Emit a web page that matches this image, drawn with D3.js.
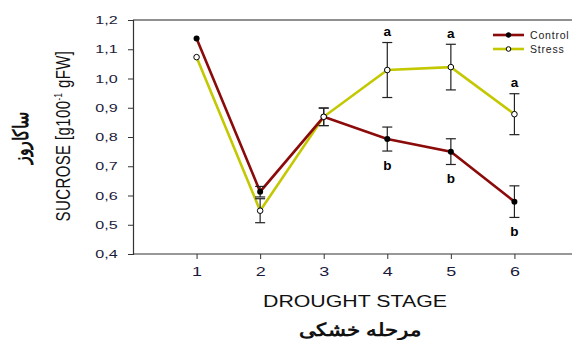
<!DOCTYPE html>
<html>
<head>
<meta charset="utf-8">
<script src="https://cdn.jsdelivr.net/npm/d3@7"></script>
<style>
  body { margin: 0; background: #fff; }
  text { font-family: "Liberation Sans", Arial, sans-serif; }
</style>
</head>
<body>
<div id="chart"></div>
<script>
// data
const stages = [1, 2, 3, 4, 5, 6];
const control = [1.137, 0.613, 0.869, 0.793, 0.750, 0.579];
const controlErr = [0, 0.018, 0.030, 0.041, 0.044, 0.054];
const stress = [1.073, 0.548, 0.869, 1.029, 1.039, 0.878];
const stressErr = [0, 0.041, 0.030, 0.094, 0.078, 0.070];
const stressLetters = ["", "", "", "a", "a", "a"];
const controlLetters = ["", "", "", "b", "b", "b"];
const yTicks = [0.4, 0.5, 0.6, 0.7, 0.8, 0.9, 1.0, 1.1, 1.2];

const W = 572, H = 340;
const mLeft = 133, mTop = 20, mBottom = 254, mRight = 578;
const stretch = 1.33; // the source figure is widened horizontally

const svg = d3.select("#chart").append("svg")
  .attr("width", W)
  .attr("height", H);

const x = d3.scaleLinear().domain([0, 7]).range([mLeft, mRight]);
const y = d3.scaleLinear().domain([0.4, 1.2]).range([mBottom, mTop]);

const fmt = d => d3.format(".1f")(d).replace(".", ",");

// top frame line
svg.append("line")
  .attr("x1", mLeft).attr("x2", W)
  .attr("y1", mTop).attr("y2", mTop)
  .attr("stroke", "#222").attr("stroke-width", 1.2);

const yAxis = svg.append("g")
  .attr("transform", "translate(" + mLeft + ",0)")
  .call(d3.axisLeft(y).tickValues(yTicks).tickFormat(fmt).tickSize(5).tickPadding(6));

const xAxis = svg.append("g")
  .attr("transform", "translate(0," + mBottom + ")")
  .call(d3.axisBottom(x).tickValues(stages).tickFormat(d3.format("d")).tickSize(5).tickPadding(7));

[yAxis, xAxis].forEach(function (g) {
  g.select(".domain").attr("stroke", "#333").attr("stroke-width", 1.2);
  g.selectAll(".tick line").attr("stroke", "#333");
  g.selectAll(".tick text").attr("fill", "#1a1a3a");
});
yAxis.selectAll(".tick text").attr("font-size", 11.5).attr("transform", "scale(1.4,1)");
xAxis.selectAll(".tick text").attr("font-size", 13.5).attr("transform", "scale(" + stretch + ",1)");
xAxis.select(".domain").attr("d", "M" + mLeft + ",0H" + W);

const line = d3.line()
  .x((d, i) => x(stages[i]))
  .y(d => y(d));

svg.append("path")
  .datum(stress)
  .attr("fill", "none")
  .attr("stroke", "#c3c800")
  .attr("stroke-width", 2.6)
  .attr("d", line);

svg.append("path")
  .datum(control)
  .attr("fill", "none")
  .attr("stroke", "#8b0a0a")
  .attr("stroke-width", 2.6)
  .attr("d", line);

// error bars
function errBars(vals, errs) {
  const g = svg.append("g").attr("stroke", "#222").attr("stroke-width", 1.2);
  stages.forEach(function (s, i) {
    if (!errs[i]) return;
    const cx = x(s), y1 = y(vals[i] + errs[i]), y2 = y(vals[i] - errs[i]);
    g.append("line").attr("x1", cx).attr("x2", cx).attr("y1", y1).attr("y2", y2);
    g.append("line").attr("x1", cx - 5).attr("x2", cx + 5).attr("y1", y1).attr("y2", y1);
    g.append("line").attr("x1", cx - 5).attr("x2", cx + 5).attr("y1", y2).attr("y2", y2);
  });
}
errBars(stress, stressErr);
errBars(control, controlErr);

svg.append("g").selectAll("circle")
  .data(control)
  .join("circle")
  .attr("cx", (d, i) => x(stages[i]))
  .attr("cy", d => y(d))
  .attr("r", 3)
  .attr("fill", "#000");

svg.append("g").selectAll("circle")
  .data(stress)
  .join("circle")
  .attr("cx", (d, i) => x(stages[i]))
  .attr("cy", d => y(d))
  .attr("r", 2.8)
  .attr("fill", "#fff")
  .attr("stroke", "#000")
  .attr("stroke-width", 1);

// significance letters
svg.append("g").selectAll("text")
  .data(stressLetters)
  .join("text")
  .attr("x", (d, i) => x(stages[i]))
  .attr("y", (d, i) => y(stress[i] + stressErr[i]) - 6.5)
  .attr("text-anchor", "middle")
  .attr("font-size", 13.5)
  .attr("font-weight", "bold")
  .text(d => d);

svg.append("g").selectAll("text")
  .data(controlLetters)
  .join("text")
  .attr("x", (d, i) => x(stages[i]))
  .attr("y", (d, i) => y(control[i] - controlErr[i]) + 19)
  .attr("text-anchor", "middle")
  .attr("font-size", 13.5)
  .attr("font-weight", "bold")
  .text(d => d);

// legend
const legend = svg.append("g").attr("transform", "translate(493,35)");
[["Control", "#8b0a0a", "#000"], ["Stress", "#c3c800", "#fff"]].forEach(function (s, i) {
  const gy = i * 14;
  legend.append("line")
    .attr("x1", 0).attr("x2", 31).attr("y1", gy).attr("y2", gy)
    .attr("stroke", s[1]).attr("stroke-width", 2.6);
  legend.append("circle")
    .attr("cx", 15.5).attr("cy", gy).attr("r", 2.3)
    .attr("fill", s[2]).attr("stroke", "#000");
  legend.append("text")
    .attr("x", 37).attr("y", gy + 4)
    .attr("font-size", 10.5)
    .attr("letter-spacing", 0.8)
    .attr("fill", "#222")
    .text(s[0]);
});

// axis titles
const yLab = svg.append("text")
  .attr("transform", "translate(70,136) rotate(-90) scale(1," + stretch + ")")
  .attr("text-anchor", "middle")
  .attr("font-size", 15)
  .attr("letter-spacing", 0.4)
  .attr("fill", "#111");
yLab.append("tspan").text("SUCROSE [g100");
yLab.append("tspan").attr("dy", -6).attr("font-size", 8).text("-1");
yLab.append("tspan").attr("dy", 6).text(" gFW]");

svg.append("text")
  .attr("transform", "translate(28,138) rotate(-90) scale(1," + stretch + ")")
  .attr("text-anchor", "middle")
  .attr("font-size", 15.5)
  .attr("font-weight", "bold")
  .attr("font-family", "'DejaVu Sans', sans-serif")
  .attr("fill", "#111")
  .text("ساکاروز");

svg.append("text")
  .attr("x", 355).attr("y", 307)
  .attr("text-anchor", "middle")
  .attr("font-size", 16)
  .attr("textLength", 184)
  .attr("lengthAdjust", "spacingAndGlyphs")
  .attr("fill", "#111")
  .text("DROUGHT STAGE");

svg.append("text")
  .attr("x", 360).attr("y", 336)
  .attr("text-anchor", "middle")
  .attr("font-size", 18)
  .attr("font-weight", "bold")
  .attr("font-family", "'DejaVu Sans', sans-serif")
  .attr("textLength", 123)
  .attr("lengthAdjust", "spacingAndGlyphs")
  .attr("fill", "#111")
  .text("مرحله خشکی");
</script>
</body>
</html>
